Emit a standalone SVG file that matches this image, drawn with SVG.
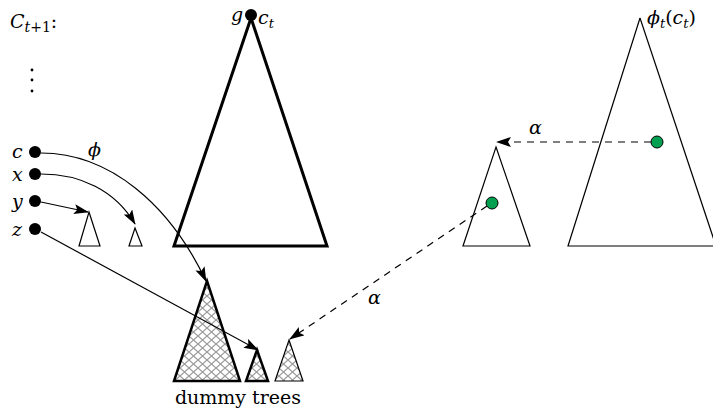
<svg xmlns="http://www.w3.org/2000/svg" width="713" height="413" viewBox="0 0 713 413">
<defs>
<style>
text{font-family:'DejaVu Serif','Liberation Serif',serif;fill:#000}
.m{font-style:italic;font-size:19px}
.r{font-size:19px}
.thin{fill:none;stroke:#000;stroke-width:1.2}
.thick{fill:none;stroke:#000;stroke-width:3}
.dash{fill:none;stroke:#000;stroke-width:1.2;stroke-dasharray:7,6}
.dot{fill:#000}
.g{fill:#00a050;stroke:#000;stroke-width:1}
</style>
<pattern id="hatch" width="9" height="8" patternUnits="userSpaceOnUse">
<path d="M0,0 L9,8 M9,0 L0,8" stroke="#999" stroke-width="1.2"/>
</pattern>
<marker id="ah" markerWidth="16" markerHeight="10" refX="14" refY="5" orient="auto" markerUnits="userSpaceOnUse">
<path d="M0,0 L15,5 L0,10 L3,5 z" fill="#000"/>
</marker>
</defs>

<g id="labels">
<text class="m" x="10" y="28" font-size="21">C<tspan font-size="14" dy="4">t</tspan><tspan font-size="14" font-style="normal">+1</tspan><tspan dy="-4" font-style="normal">:</tspan></text>
<circle cx="32" cy="70" r="1.4" class="dot"/>
<circle cx="32" cy="80" r="1.4" class="dot"/>
<circle cx="32" cy="91" r="1.4" class="dot"/>
</g>

<g id="node-big">
<path class="thick" d="M251,18 L327,246 L174,246 Z"/>
<circle cx="251" cy="15" r="6" class="dot"/>
<text class="m" x="231" y="21">g</text>
<text class="m" x="258" y="24">c<tspan font-size="13" dy="4">t</tspan></text>
</g>

<g id="node-c"><circle cx="35" cy="152" r="6" class="dot"/><text class="m" x="12" y="158">c</text></g>
<g id="node-x"><circle cx="35" cy="174" r="6" class="dot"/><text class="m" x="12" y="181">x</text></g>
<g id="node-y"><circle cx="35" cy="201" r="6" class="dot"/><text class="m" x="12" y="208">y</text></g>
<g id="node-z"><circle cx="35" cy="229" r="6" class="dot"/><text class="m" x="12" y="236">z</text></g>

<g id="tri-small1"><path class="thin" d="M89,212 L100,246 L79,246 Z"/></g>
<g id="tri-small2"><path class="thin" d="M135,228 L142,246 L129,246 Z"/></g>

<g id="dummy1"><path d="M207,281 L240,381 L174,381 Z" fill="url(#hatch)" stroke="#000" stroke-width="2.5"/></g>
<g id="dummy2"><path d="M257,350 L268,381 L246,381 Z" fill="url(#hatch)" stroke="#000" stroke-width="2.5"/></g>
<g id="dummy3"><path d="M289,340 L303,381 L275,381 Z" fill="url(#hatch)" stroke="#000" stroke-width="1.2"/></g>
<text class="r" x="238" y="404" text-anchor="middle">dummy trees</text>

<g id="right-big">
<path class="thin" d="M640,18 L716,246 M640,18 L568,246 L713,246"/>
<circle cx="657" cy="142" r="6" class="g"/>
<text class="m" x="647" y="24">ϕ<tspan font-size="13" dy="4">t</tspan><tspan dy="-4" font-style="normal">(</tspan>c<tspan font-size="13" dy="4">t</tspan><tspan dy="-4" font-style="normal">)</tspan></text>
</g>
<g id="right-small">
<path class="thin" d="M496,147 L530,246 L463,246 Z"/>
<circle cx="492" cy="203" r="6" class="g"/>
</g>

<g id="connectors">
<path class="thin" d="M41,153 C110,153 170,205 206,281" marker-end="url(#ah)"/>
<path class="thin" d="M41,174 C80,174 115,190 135,224" marker-end="url(#ah)"/>
<path class="thin" d="M41,202 L88,212" marker-end="url(#ah)"/>
<path class="thin" d="M41,232 L258,350" marker-end="url(#ah)"/>
<path class="dash" d="M651,142 L497,142" marker-end="url(#ah)"/>
<path class="dash" d="M487,206 L290,339" marker-end="url(#ah)"/>
<text class="m" x="88" y="156">ϕ</text>
<text class="m" x="529" y="134">α</text>
<text class="m" x="368" y="304">α</text>
</g>
</svg>
